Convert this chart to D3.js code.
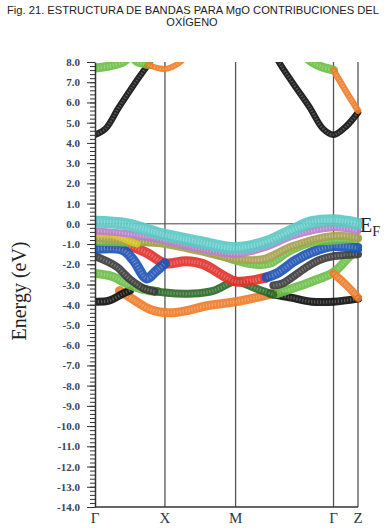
<!DOCTYPE html>
<html>
<head>
<meta charset="utf-8">
<script src="https://cdn.jsdelivr.net/npm/d3@7"></script>
<style>
body { margin: 0; background: #fff; }
svg { display: block; }
</style>
</head>
<body>
<svg id="chart" width="386" height="530"></svg>
<script>
// k path (high symmetry points) and energy ticks
var kLabels = ["Γ", "X", "M", "Γ", "Z"];
var kPoints = [0, 1, 2.01, 3.41, 3.76];
var yTicks = [8, 7, 6, 5, 4, 3, 2, 1, 0, -1, -2, -3, -4, -5, -6, -7, -8, -9, -10, -11, -12, -13, -14];

// bands: [k, energy (eV)]
// conduction
var condBlackLeft = [[0, 4.4], [0.15, 4.7], [0.34, 5.75], [0.58, 7.0], [0.78, 8.0], [0.86, 8.6]];
var condBlackRight = [[2.55, 8.6], [2.63, 8.0], [2.83, 6.95], [3.07, 5.75], [3.26, 4.7], [3.41, 4.4], [3.6, 4.85], [3.76, 5.5]];
var condGreenLeft = [[0, 7.7], [0.2, 7.8], [0.4, 8.0], [0.5, 8.3]];
var condGreenX = [[0.52, 8.3], [0.6, 8.0], [0.7, 7.9], [0.78, 7.85]];
var condOrangeX = [[0.76, 7.85], [0.9, 7.7], [1.0, 7.65], [1.1, 7.75], [1.22, 8.0], [1.3, 8.3]];
var condGreenRight = [[3.0, 8.3], [3.1, 8.0], [3.25, 7.75], [3.41, 7.6]];
var condOrangeRight = [[3.41, 7.6], [3.58, 6.6], [3.76, 5.6]];
// valence
var valCyan = [[0, 0.1], [0.45, -0.02], [1.0, -0.55], [1.5, -0.9], [2.01, -1.2], [2.45, -0.9], [2.83, -0.3], [3.1, 0.08], [3.41, 0.18], [3.6, 0.1], [3.76, 0.0]];
var valPurple = [[0, -0.35], [0.5, -0.5], [1.0, -0.85], [1.5, -1.25], [2.01, -1.5], [2.45, -1.15], [2.83, -0.6], [3.41, -0.2], [3.76, -0.35]];
var valOlive = [[0, -0.7], [0.5, -0.85], [1.0, -1.0], [1.5, -1.35], [2.01, -1.75], [2.4, -1.75], [2.83, -1.1], [3.41, -0.6], [3.76, -0.7]];
var valYellow = [[0, -0.5], [0.25, -0.55], [0.45, -0.8], [0.6, -1.0]];
var valGreenUp = [[0, -0.9], [0.5, -0.95], [1.0, -0.95], [1.4, -1.2], [1.8, -1.6], [2.01, -1.85], [2.3, -2.05], [2.5, -2.0], [2.8, -1.35], [3.1, -0.95], [3.41, -0.85], [3.76, -0.75]];
var valRed = [[0.2, -1.0], [0.5, -1.1], [0.75, -1.45], [1.0, -1.95], [1.3, -1.85], [1.55, -2.0], [1.85, -2.6], [2.01, -2.85], [2.25, -2.8], [2.45, -2.65]];
var valBlueLeft = [[0, -1.25], [0.4, -1.3], [0.55, -1.8], [0.74, -2.7], [0.87, -2.35], [1.0, -1.95]];
var valBlueRight = [[2.45, -2.65], [2.6, -2.45], [2.87, -1.8], [3.1, -1.4], [3.41, -1.1], [3.76, -1.2]];
var valGrayLeft = [[0, -1.6], [0.3, -2.1], [0.5, -2.75], [0.7, -3.2], [0.85, -3.35]];
var valGrayRight = [[2.55, -3.05], [2.68, -2.95], [3.0, -2.2], [3.2, -1.8], [3.41, -1.6], [3.76, -1.5]];
var valDarkGreen = [[0.7, -3.2], [1.0, -3.4], [1.4, -3.45], [1.7, -3.3], [2.01, -2.85], [2.3, -3.2], [2.55, -3.5]];
var valBlackLeft = [[0, -3.85], [0.2, -3.8], [0.4, -3.45], [0.5, -3.3]];
var valBlackRight = [[2.5, -3.45], [2.8, -3.65], [3.1, -3.85], [3.41, -3.85], [3.76, -3.7]];
var valOrange = [[0.35, -3.3], [0.55, -3.75], [0.8, -4.25], [1.05, -4.4], [1.3, -4.3], [1.6, -4.05], [2.01, -3.85], [2.3, -3.65], [2.6, -3.4]];
var valGreenLowLeft = [[0, -2.45], [0.25, -2.6], [0.45, -2.95], [0.7, -3.25], [0.9, -3.35]];
var valGreenLowRight = [[2.6, -3.45], [2.82, -3.2], [3.1, -2.85], [3.41, -2.4], [3.6, -1.75], [3.76, -1.15]];
var valOrangeRight = [[3.41, -2.45], [3.6, -3.05], [3.76, -3.65]];

// drawing order and styles
var bands = [
    {pts: condBlackLeft, color: "#111111", w: 6.5},
    {pts: condBlackRight, color: "#111111", w: 6.5},
    {pts: condGreenLeft, color: "#6cbf48", w: 9},
    {pts: condGreenX, color: "#6cbf48", w: 8},
    {pts: condOrangeX, color: "#ef7d2a", w: 6},
    {pts: condGreenRight, color: "#6cbf48", w: 9},
    {pts: condOrangeRight, color: "#ef7d2a", w: 6.5},
    {pts: valOrange, color: "#ef7d2a", w: 9},
    {pts: valBlackLeft, color: "#111111", w: 8},
    {pts: valBlackRight, color: "#111111", w: 8},
    {pts: valGreenLowLeft, color: "#6cbf48", w: 9},
    {pts: valGreenLowRight, color: "#6cbf48", w: 9},
    {pts: valOrangeRight, color: "#ef7d2a", w: 8},
    {pts: valDarkGreen, color: "#2f6b2a", w: 8},
    {pts: valGrayLeft, color: "#3d3d3d", w: 8},
    {pts: valGrayRight, color: "#3d3d3d", w: 8},
    {pts: valRed, color: "#e2322b", w: 10},
    {pts: valBlueLeft, color: "#1f55b5", w: 10},
    {pts: valBlueRight, color: "#1f55b5", w: 10},
    {pts: valGreenUp, color: "#6cbf48", w: 7},
    {pts: valOlive, color: "#a6a250", w: 8},
    {pts: valYellow, color: "#dcc22a", w: 7},
    {pts: valPurple, color: "#b87fcb", w: 7},
    {pts: valCyan, color: "#5cc9c6", w: 12}
];

var svg = d3.select("#chart");
var margin = {top: 62, right: 28, bottom: 23, left: 95};
var width = 386 - margin.left - margin.right,
    height = 530 - margin.top - margin.bottom;

svg.append("rect").attr("width", 386).attr("height", 530).attr("fill", "#fff");

// title
svg.append("text")
    .attr("x", 193).attr("y", 13.5)
    .attr("text-anchor", "middle")
    .attr("textLength", 372).attr("lengthAdjust", "spacingAndGlyphs")
    .style("font-family", "'Liberation Sans', Arial, sans-serif")
    .style("font-size", "11px").attr("fill", "#222")
    .text("Fig. 21. ESTRUCTURA DE BANDAS PARA MgO CONTRIBUCIONES DEL");
svg.append("text")
    .attr("x", 192).attr("y", 26)
    .attr("text-anchor", "middle")
    .style("font-family", "'Liberation Sans', Arial, sans-serif")
    .style("font-size", "11px").attr("fill", "#222")
    .text("OXÍGENO");

var g = svg.append("g")
    .attr("transform", "translate(" + margin.left + "," + margin.top + ")");

var x = d3.scaleLinear()
    .domain([kPoints[0], kPoints[kPoints.length - 1]])
    .range([0, width]);
var y = d3.scaleLinear()
    .domain([d3.min(yTicks), d3.max(yTicks)])
    .range([height, 0]);

g.append("clipPath").attr("id", "plot-clip")
    .append("rect").attr("x", 0).attr("y", 0).attr("width", width + 4).attr("height", height);

// Fermi level
g.append("line")
    .attr("x1", 0).attr("x2", width)
    .attr("y1", y(0)).attr("y2", y(0))
    .attr("stroke", "#444").attr("stroke-width", 1);

// high symmetry verticals
g.selectAll(".kline")
    .data(kPoints.slice(1))
    .enter().append("line")
    .attr("class", "kline")
    .attr("x1", function(d) { return x(d); })
    .attr("x2", function(d) { return x(d); })
    .attr("y1", 0).attr("y2", height)
    .attr("stroke", "#555").attr("stroke-width", 1.3);

var line = d3.line()
    .x(function(d) { return x(d[0]); })
    .y(function(d) { return y(d[1]); })
    .curve(d3.curveCatmullRom.alpha(0.5));

var bandG = g.append("g").attr("clip-path", "url(#plot-clip)");
bands.forEach(function(b) {
    bandG.append("path")
        .datum(b.pts)
        .attr("fill", "none")
        .attr("stroke", b.color)
        .attr("stroke-width", b.w)
        .attr("stroke-linecap", "round")
        .attr("stroke-linejoin", "round")
        .attr("opacity", 0.92)
        .attr("d", line);
    // hollow marker texture
    bandG.append("path")
        .datum(b.pts)
        .attr("fill", "none")
        .attr("stroke", "#fff")
        .attr("stroke-width", Math.max(1, b.w * 0.4))
        .attr("stroke-dasharray", "1.2 1.8")
        .attr("opacity", 0.25)
        .attr("d", line);
});

// y axis, major + minor ticks
var minorTicks = d3.range(-14, 8.001, 0.2).map(function(d) { return +d.toFixed(1); });
g.append("g")
    .call(d3.axisLeft(y).tickValues(minorTicks).tickSize(5).tickFormat(""))
    .call(function(s) { s.select(".domain").remove(); })
    .selectAll("line").attr("stroke", "#333");

var yAxis = g.append("g")
    .call(d3.axisLeft(y).tickValues(yTicks).tickSize(8).tickSizeOuter(0).tickPadding(7)
        .tickFormat(function(d) { return d.toFixed(1); }));
yAxis.select(".domain").attr("stroke", "#333").attr("stroke-width", 1.5);
yAxis.selectAll("line").attr("stroke", "#333");
yAxis.selectAll("text")
    .style("font-family", "'Liberation Serif', 'Times New Roman', serif")
    .style("font-size", "11px").style("font-weight", "bold")
    .attr("fill", "#3a4556");

// x axis
g.append("line")
    .attr("x1", 0).attr("x2", width)
    .attr("y1", height).attr("y2", height)
    .attr("stroke", "#333").attr("stroke-width", 1.5);
g.selectAll(".klabel")
    .data(kPoints)
    .enter().append("text")
    .attr("class", "klabel")
    .attr("x", function(d) { return x(d); })
    .attr("y", height + 16)
    .attr("text-anchor", "middle")
    .style("font-family", "'Liberation Serif', 'Times New Roman', serif")
    .style("font-size", "15px")
    .attr("fill", "#2c3848")
    .text(function(d, i) { return kLabels[i]; });

// E_F label
var ef = g.append("text")
    .attr("x", width + 2).attr("y", y(0) + 8)
    .style("font-family", "'Liberation Serif', 'Times New Roman', serif")
    .style("font-size", "20px").attr("fill", "#222");
ef.append("tspan").text("E");
ef.append("tspan").attr("dy", 4).style("font-size", "14px").text("F");

// y label
svg.append("text")
    .attr("transform", "translate(26,291) rotate(-90)")
    .attr("text-anchor", "middle")
    .style("font-family", "'Liberation Serif', 'Times New Roman', serif")
    .style("font-size", "20px").attr("fill", "#222")
    .text("Energy (eV)");
</script>
</body>
</html>
